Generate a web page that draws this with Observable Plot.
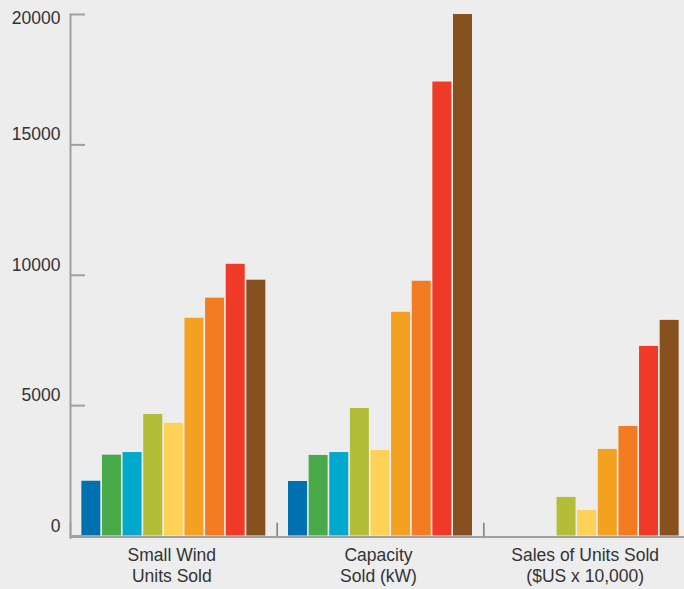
<!DOCTYPE html>
<html>
<head>
<meta charset="utf-8">
<script src="https://cdn.jsdelivr.net/npm/d3@7"></script>
<script src="https://cdn.jsdelivr.net/npm/@observablehq/plot@0.6"></script>
<style>
  html, body { margin: 0; padding: 0; background: #ededed; }
  #chart { width: 684px; height: 589px; overflow: hidden; }
</style>
</head>
<body>
<div id="chart"></div>
<script>
// Categories (groups along the x axis)
const groups = ["Small Wind\nUnits Sold", "Capacity\nSold (kW)", "Sales of Units Sold\n($US x 10,000)"];
// Series (one coloured bar per series inside each group)
const seriesNames = ["S1", "S2", "S3", "S4", "S5", "S6", "S7", "S8", "S9"];
const seriesColors = ["#0071b0", "#49aa4a", "#00a9cc", "#b4bd38", "#fed257", "#f4a020", "#f37b22", "#ee3a26", "#86501f"];
// Values per group
const smallWindUnits = [2100, 3100, 3200, 4660, 4320, 8350, 9120, 10420, 9810];
const capacityKW     = [2090, 3090, 3200, 4890, 3280, 8580, 9770, 17410, 20000];
const salesUSD       = [null, null, null, 1480, 980, 3320, 4200, 7270, 8270];
// Tick labels
const yTicks = [0, 5000, 10000, 15000, 20000];

const valuesByGroup = [smallWindUnits, capacityKW, salesUSD];
const table = groups.flatMap((g, gi) =>
  seriesNames.map((s, si) => ({group: g, series: s, value: valuesByGroup[gi][si]}))
).filter(d => d.value != null);

const font = "'Liberation Sans', Arial, Helvetica, sans-serif";
const textColor = "#333";
const axisGray = "#a0a0a0";
const fmt = d => String(d);

const chart = Plot.plot({
  width: 684,
  height: 589,
  marginTop: 14,
  marginBottom: 53.5,
  marginLeft: 70,
  marginRight: 0,
  facet: {marginTop: 0, marginBottom: 0, marginLeft: 0, marginRight: 0},
  style: {background: "#ededed", fontFamily: font, fontSize: "17.5px", color: textColor},
  fx: {domain: groups, range: [70, 690], padding: 0, round: false, axis: null, label: null},
  x: {domain: seriesNames, paddingInner: 0.079, paddingOuter: 0.55, round: false, axis: null},
  y: {domain: [0, 20000], axis: null},
  color: {domain: seriesNames, range: seriesColors},
  marks: [
    // group separator ticks
    Plot.frame({anchor: "left", insetTop: 509, insetBottom: -1.5, stroke: "#7c7c7c", strokeWidth: 1.5}),
    // baseline
    Plot.ruleY([0], {dy: 1, stroke: axisGray, strokeWidth: 2}),
    // bars
    Plot.barY(table, {fx: "group", x: "series", y: "value", fill: "series"}),
    // y axis line
    Plot.frame({anchor: "left", facetAnchor: "left", insetBottom: -2, stroke: axisGray, strokeWidth: 2}),
    // y ticks pointing inward
    Plot.axisY(yTicks, {tickSize: 15, dx: 15, fill: "none", stroke: axisGray, strokeWidth: 2, label: null}),
    // y tick labels
    Plot.axisY(yTicks.filter(v => v < 20000), {tickSize: 0, tickPadding: 10, dy: -10, tickFormat: fmt, label: null, fill: textColor, fontSize: 17.5, fontFamily: font}),
    Plot.axisY(yTicks.filter(v => v >= 20000), {tickSize: 0, tickPadding: 10, dy: 4, tickFormat: fmt, label: null, fill: textColor, fontSize: 17.5, fontFamily: font}),
    // group labels
    Plot.axisFx({anchor: "bottom", tickSize: 0, tickPadding: 10, dx: -2, label: null, lineHeight: 1.2, fill: textColor, fontSize: 17.5, fontFamily: font})
  ]
});
document.getElementById("chart").appendChild(chart);
</script>
</body>
</html>
